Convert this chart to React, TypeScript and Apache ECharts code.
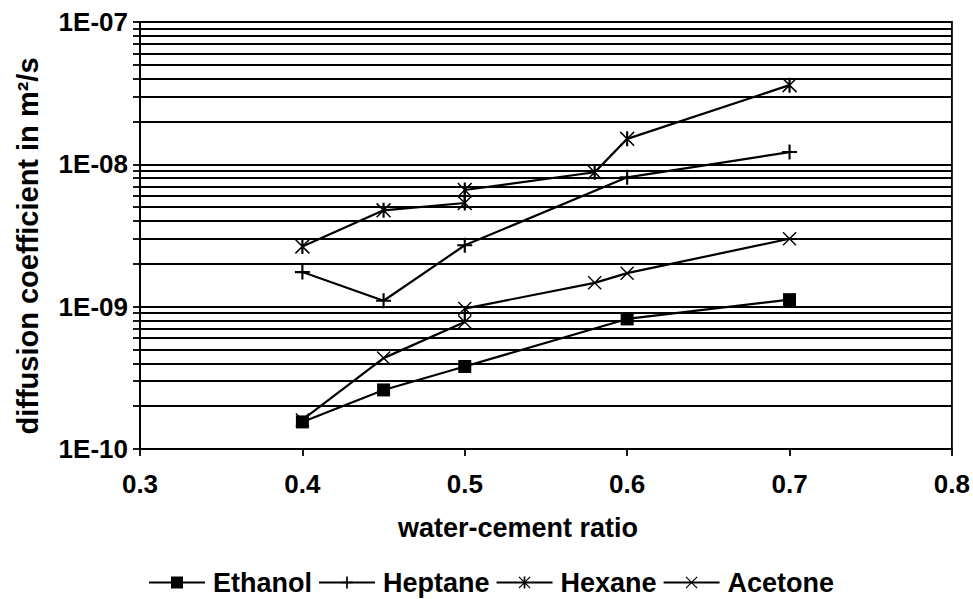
import React, { useEffect, useRef } from 'react';
import * as echarts from 'echarts';

// water-cement ratio (x) and diffusion coefficient in m²/s (y)
const ethanolRatio = [0.4, 0.45, 0.5, 0.6, 0.7];
const ethanolD = [1.55e-10, 2.6e-10, 3.8e-10, 8.2e-10, 1.12e-9];

const heptaneRatio = [0.4, 0.45, 0.5, 0.6, 0.7];
const heptaneD = [1.75e-9, 1.1e-9, 2.7e-9, 8.1e-9, 1.22e-8];

const hexaneRatio = [0.4, 0.45, 0.5, 0.5, 0.58, 0.6, 0.7];
const hexaneD = [2.65e-9, 4.75e-9, 5.35e-9, 6.6e-9, 8.8e-9, 1.51e-8, 3.6e-8];

const acetoneRatio = [0.4, 0.45, 0.5, 0.5, 0.58, 0.6, 0.7];
const acetoneD = [1.6e-10, 4.35e-10, 7.8e-10, 9.7e-10, 1.47e-9, 1.72e-9, 3.0e-9];

const seriesNames = ['Ethanol', 'Heptane', 'Hexane', 'Acetone'];
const xTickValues = [0.3, 0.4, 0.5, 0.6, 0.7, 0.8];
const yMajorTicks = [1e-10, 1e-9, 1e-8, 1e-7];
const yMajorLabels = ['1E-10', '1E-09', '1E-08', '1E-07'];
const minorMultipliers = [1, 2, 3, 4, 5, 6, 7, 8, 9];

const yGridValues: number[] = [];
[1e-10, 1e-9, 1e-8].forEach((d) => minorMultipliers.forEach((m) => yGridValues.push(m * d)));
yGridValues.push(1e-7);

const PLUS = 'path://M6,0H8V6H14V8H8V14H6V8H0V6H6Z';
const CROSS = 'path://M0,1L1,0L14,13L13,14Z M13,0L14,1L1,14L0,13Z';
const STAR = 'path://M0,1L1,0L14,13L13,14Z M13,0L14,1L1,14L0,13Z M6,0L8,0L8,14L6,14Z';

const FONT = '"Liberation Sans", Arial, sans-serif';

function pairs(xs: number[], ys: number[]) {
  return xs.map((x, i) => [x, ys[i]]);
}

export default function App() {
  const ref = useRef<HTMLDivElement>(null);
  useEffect(() => {
    if (!ref.current) return;
    const chart = echarts.init(ref.current, null, { renderer: 'svg' });
    const lineBase = {
      type: 'line' as const,
      lineStyle: { color: '#000', width: 2.2 },
      itemStyle: { color: '#000' },
      z: 5,
    };
    chart.setOption({
      animation: false,
      backgroundColor: '#fff',
      grid: {
        left: 140,
        right: 18,
        top: 22,
        bottom: 150,
        show: true,
        borderColor: '#000',
        borderWidth: 1.8,
        backgroundColor: 'transparent',
      },
      xAxis: {
        type: 'value',
        min: 0.3,
        max: 0.8,
        interval: 0.1,
        axisLine: { show: true, lineStyle: { color: '#000', width: 1.8 } },
        axisTick: { show: true, inside: false, length: 7, lineStyle: { color: '#000', width: 1.8 } },
        splitLine: { show: false },
        axisLabel: {
          margin: 22,
          color: '#000',
          fontSize: 26,
          fontWeight: 'bold',
          fontFamily: FONT,
          formatter: (v: number) => (xTickValues.some((t) => Math.abs(t - v) < 1e-9) ? v.toFixed(1) : ''),
        },
      },
      yAxis: {
        type: 'log',
        logBase: 10,
        min: 1e-10,
        max: 1e-7,
        axisLine: { show: true, lineStyle: { color: '#000', width: 1.8 } },
        axisTick: {
          show: true,
          length: 7,
          customValues: yGridValues,
          lineStyle: { color: '#000', width: 1.8 },
        },
        splitLine: { show: true, lineStyle: { color: '#000', width: 2 } },
        axisLabel: {
          margin: 12,
          color: '#000',
          fontSize: 26,
          fontWeight: 'bold',
          fontFamily: FONT,
          customValues: yMajorTicks,
          formatter: (v: number) => {
            const e = Math.round(Math.log10(v));
            const i = yMajorTicks.findIndex((t) => Math.round(Math.log10(t)) === e);
            return i >= 0 ? yMajorLabels[i] : '';
          },
        },
      },
      legend: {
        data: seriesNames,
        left: 143,
        top: 564,
        itemWidth: 56,
        itemHeight: 15,
        itemGap: 6,
        textStyle: {
          color: '#000',
          fontSize: 27,
          fontWeight: 'bold',
          fontFamily: FONT,
          padding: [0, 0, 0, 3],
        },
      },
      graphic: [
        {
          type: 'text',
          x: 28,
          y: 246,
          rotation: Math.PI / 2,
          style: {
            text: 'diffusion coefficient in m²/s',
            font: 'bold 29px ' + FONT,
            fill: '#000',
            align: 'center',
            verticalAlign: 'middle',
          },
        },
        {
          type: 'text',
          x: 518,
          y: 528,
          style: {
            text: 'water-cement ratio',
            font: 'bold 27px ' + FONT,
            fill: '#000',
            align: 'center',
            verticalAlign: 'middle',
          },
        },
      ],
      series: [
        { ...lineBase, name: 'Ethanol', symbol: 'rect', symbolSize: 13, data: pairs(ethanolRatio, ethanolD) },
        { ...lineBase, name: 'Heptane', symbol: PLUS, symbolSize: 15, data: pairs(heptaneRatio, heptaneD) },
        { ...lineBase, name: 'Hexane', symbol: STAR, symbolSize: 15, data: pairs(hexaneRatio, hexaneD) },
        { ...lineBase, name: 'Acetone', symbol: CROSS, symbolSize: 14, data: pairs(acetoneRatio, acetoneD) },
      ],
    });
    return () => chart.dispose();
  }, []);
  return (
    <div
      ref={ref}
      style={{ position: 'fixed', left: 0, top: 0, width: 973, height: 599, background: '#fff' }}
    />
  );
}
